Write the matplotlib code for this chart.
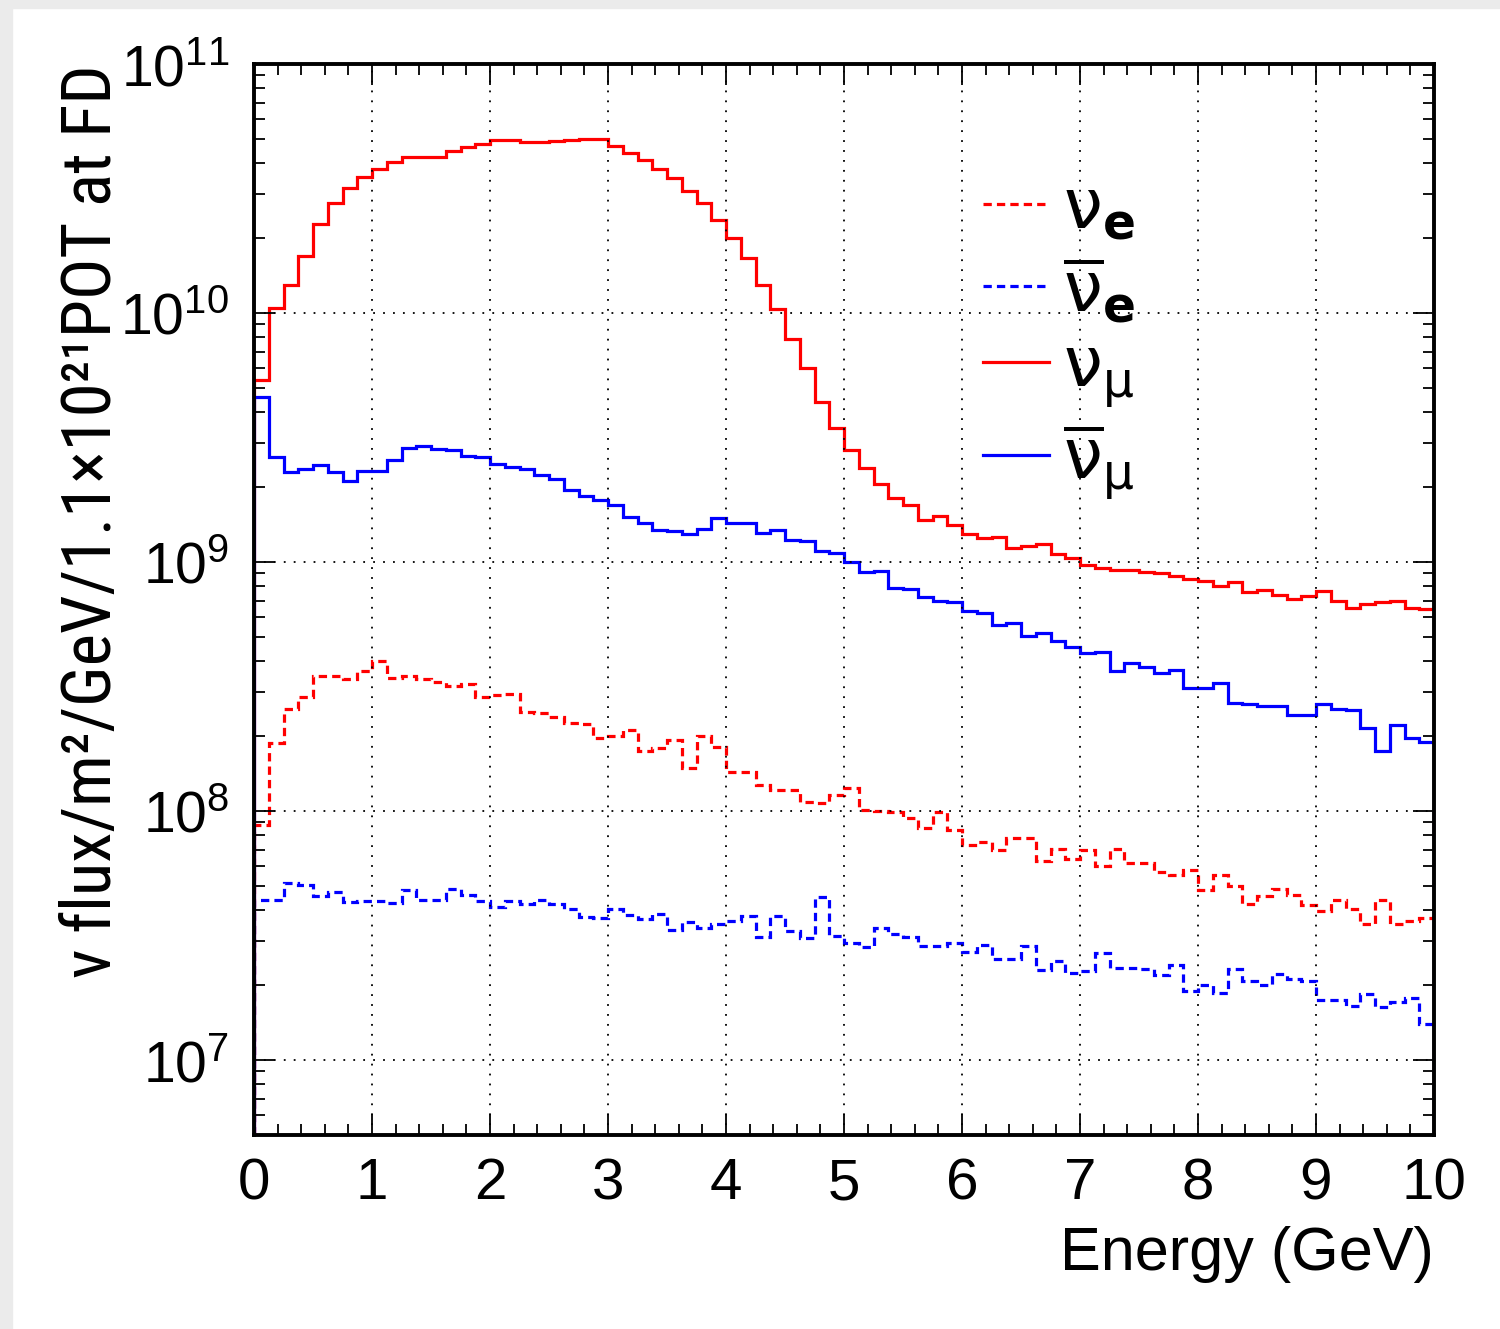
import numpy as np
import matplotlib
matplotlib.use("Agg")
import matplotlib.pyplot as plt
from matplotlib.lines import Line2D
from matplotlib.patches import Rectangle
from matplotlib.ticker import MultipleLocator, LogLocator, NullFormatter
from matplotlib import font_manager

plt.rcParams['font.family'] = ['Liberation Sans', 'DejaVu Sans']
plt.rcParams['mathtext.fontset'] = 'custom'
plt.rcParams['mathtext.rm'] = 'Liberation Sans'
plt.rcParams['mathtext.it'] = 'Liberation Sans:italic'
plt.rcParams['mathtext.bf'] = 'Liberation Sans:bold'

# ---------------- data (flux per 0.125 GeV bin, 0-10 GeV) ----------------
bin_width = 0.125
n_bins = 80
edges = np.arange(n_bins + 1) * bin_width

numu = [5.4e9, 1.05e10, 1.29e10, 1.69e10, 2.27e10, 2.76e10, 3.19e10, 3.52e10,
        3.78e10, 4.04e10, 4.25e10, 4.25e10, 4.25e10, 4.47e10, 4.65e10, 4.79e10,
        4.93e10, 4.93e10, 4.87e10, 4.85e10, 4.90e10, 4.95e10, 5.01e10, 4.98e10,
        4.69e10, 4.40e10, 4.10e10, 3.80e10, 3.50e10, 3.09e10, 2.76e10, 2.37e10,
        2.00e10, 1.67e10, 1.30e10, 1.04e10, 7.9e9, 6.0e9, 4.4e9, 3.45e9,
        2.81e9, 2.39e9, 2.05e9, 1.81e9, 1.69e9, 1.47e9, 1.53e9, 1.41e9,
        1.30e9, 1.25e9, 1.26e9, 1.14e9, 1.16e9, 1.18e9, 1.08e9, 1.04e9,
        9.7e8, 9.5e8, 9.27e8, 9.25e8, 9.13e8, 9.0e8, 8.8e8, 8.54e8,
        8.38e8, 8.03e8, 8.34e8, 7.6e8, 7.7e8, 7.4e8, 7.1e8, 7.3e8,
        7.67e8, 6.97e8, 6.55e8, 6.8e8, 6.93e8, 6.97e8, 6.55e8, 6.47e8]

numubar = [4.59e9, 2.64e9, 2.30e9, 2.36e9, 2.46e9, 2.29e9, 2.11e9, 2.33e9,
           2.31e9, 2.56e9, 2.87e9, 2.92e9, 2.85e9, 2.81e9, 2.67e9, 2.64e9,
           2.48e9, 2.41e9, 2.36e9, 2.24e9, 2.15e9, 1.94e9, 1.84e9, 1.77e9,
           1.70e9, 1.52e9, 1.44e9, 1.35e9, 1.33e9, 1.30e9, 1.36e9, 1.50e9,
           1.43e9, 1.43e9, 1.31e9, 1.34e9, 1.23e9, 1.21e9, 1.11e9, 1.09e9,
           1.00e9, 9.1e8, 9.2e8, 7.9e8, 7.8e8, 7.26e8, 6.97e8, 6.88e8,
           6.37e8, 6.22e8, 5.58e8, 5.67e8, 5.06e8, 5.2e8, 4.82e8, 4.57e8,
           4.30e8, 4.37e8, 3.65e8, 3.94e8, 3.8e8, 3.57e8, 3.69e8, 3.13e8,
           3.13e8, 3.26e8, 2.71e8, 2.68e8, 2.65e8, 2.65e8, 2.43e8, 2.42e8,
           2.68e8, 2.57e8, 2.55e8, 2.15e8, 1.75e8, 2.22e8, 1.97e8, 1.90e8]

nue = [8.8e7, 1.87e8, 2.57e8, 2.88e8, 3.47e8, 3.47e8, 3.39e8, 3.66e8,
       4.0e8, 3.43e8, 3.47e8, 3.39e8, 3.29e8, 3.19e8, 3.23e8, 2.88e8,
       2.92e8, 2.94e8, 2.49e8, 2.47e8, 2.38e8, 2.25e8, 2.23e8, 1.96e8,
       2.0e8, 2.11e8, 1.75e8, 1.79e8, 1.93e8, 1.49e8, 2.01e8, 1.80e8,
       1.44e8, 1.44e8, 1.27e8, 1.22e8, 1.22e8, 1.09e8, 1.08e8, 1.16e8,
       1.24e8, 1.01e8, 1.0e8, 9.9e7, 9.4e7, 8.55e7, 9.9e7, 8.4e7,
       7.3e7, 7.5e7, 7.0e7, 7.8e7, 7.8e7, 6.3e7, 7.06e7, 6.4e7,
       7.0e7, 6.0e7, 7.06e7, 6.2e7, 6.2e7, 5.7e7, 5.56e7, 5.8e7,
       4.8e7, 5.56e7, 5.0e7, 4.24e7, 4.55e7, 4.88e7, 4.62e7, 4.19e7,
       3.98e7, 4.41e7, 4.06e7, 3.53e7, 4.41e7, 3.53e7, 3.63e7, 3.73e7]

nuebar = [4.41e7, 4.41e7, 5.12e7, 5.05e7, 4.55e7, 4.72e7, 4.32e7, 4.35e7,
          4.35e7, 4.26e7, 4.8e7, 4.41e7, 4.4e7, 4.85e7, 4.62e7, 4.35e7,
          4.11e7, 4.35e7, 4.22e7, 4.38e7, 4.22e7, 4.03e7, 3.76e7, 3.73e7,
          4.06e7, 3.82e7, 3.67e7, 3.87e7, 3.34e7, 3.59e7, 3.4e7, 3.52e7,
          3.63e7, 3.78e7, 3.12e7, 3.78e7, 3.3e7, 3.1e7, 4.52e7, 3.15e7,
          2.96e7, 2.84e7, 3.38e7, 3.21e7, 3.12e7, 2.87e7, 2.87e7, 2.96e7,
          2.72e7, 2.9e7, 2.54e7, 2.54e7, 2.87e7, 2.29e7, 2.5e7, 2.24e7,
          2.28e7, 2.69e7, 2.34e7, 2.35e7, 2.32e7, 2.2e7, 2.41e7, 1.89e7,
          2.01e7, 1.86e7, 2.33e7, 2.07e7, 2.0e7, 2.22e7, 2.12e7, 2.07e7,
          1.74e7, 1.75e7, 1.65e7, 1.84e7, 1.63e7, 1.71e7, 1.77e7, 1.40e7]

labels = [r'$\mathrm{\nu}_{\mathbf{e}}$', r'$\overline{\mathrm{\nu}}_{\mathbf{e}}$',
          r'$\mathrm{\nu}_{\mathrm{\mu}}$', r'$\overline{\mathrm{\nu}}_{\mathrm{\mu}}$']
x_ticks = list(range(0, 11))
y_min, y_max = 5e6, 1e11
x_title = 'Energy (GeV)'
y_title = 'ν flux/m²/GeV/1.1×10²¹POT at FD'

# ---------------- figure ----------------
W, H = 1500, 1329
fig = plt.figure(figsize=(W / 100, H / 100), dpi=100)
fig.patch.set_facecolor('white')
fig.patches.append(Rectangle((0, 0), 12 / W, 1, transform=fig.transFigure,
                             color='#ebebeb', zorder=0))
fig.patches.append(Rectangle((0, 1 - 8 / H), 1, 8 / H, transform=fig.transFigure,
                             color='#ebebeb', zorder=0))

ax = fig.add_axes([254 / W, 1 - 1135 / H, (1434 - 254) / W, (1135 - 64) / H])
ax.set_yscale('log')

lw = 2.3
dash = (0, (2.6, 1.6))
series = [(nue, 'red', dash), (nuebar, 'blue', dash),
          (numu, 'red', '-'), (numubar, 'blue', '-')]
handles = []
for vals, col, ls in series:
    ax.stairs(vals, edges, baseline=y_min, color=col, lw=lw, linestyle=ls, zorder=2)
    handles.append(Line2D([], [], color=col, lw=lw, linestyle=ls))

ax.set_xlim(edges[0], edges[-1])
ax.set_ylim(y_min, y_max)

ax.xaxis.set_minor_locator(MultipleLocator(0.2))
ax.set_xticks(x_ticks)
ax.yaxis.set_major_locator(LogLocator(base=10, numticks=20))
ax.yaxis.set_minor_locator(LogLocator(base=10, subs=np.arange(2, 10), numticks=20))
ax.yaxis.set_minor_formatter(NullFormatter())

ax.tick_params(which='both', direction='in', top=True, right=True, width=1.3, colors='black')
ax.tick_params(which='major', length=15)
ax.tick_params(which='minor', length=8)
ax.tick_params(axis='x', which='major', labelsize=42, pad=16)
ax.tick_params(axis='y', which='major', labelsize=41, pad=18)

for sp in ax.spines.values():
    sp.set_linewidth(2.8)
    sp.set_zorder(5)

ax.grid(True, which='major', color='black', linestyle=(0, (1, 4.5)), linewidth=1.3)
ax.set_axisbelow(False)

# ---------------- axis titles ----------------
ax.set_xlabel(x_title, loc='right', fontsize=44)
ax.xaxis.set_label_coords(1.0, -0.085)


def find_narrow_font():
    fl = font_manager.fontManager.ttflist

    def regular(f):
        return f.style == 'normal' and f.weight in (400, 'normal', 'regular', 'book')

    for nm in ['Liberation Sans Narrow', 'Nimbus Sans Narrow', 'Arial Narrow',
               'Helvetica Narrow']:
        for f in fl:
            if f.name == nm and regular(f):
                return f.fname
    order = ['extra-condensed', 'condensed', 'semi-condensed']
    for st in order:
        for fam in ['Noto Sans', 'Roboto', 'Open Sans', 'Liberation Sans', 'Lato',
                    'Inter', 'DejaVu Sans']:
            for f in fl:
                if f.name.startswith(fam) and f.stretch == st and regular(f):
                    return f.fname
    for key in ['ExtraCondensed', 'Condensed', 'Narrow', 'SemiCondensed']:
        for f in fl:
            if key in f.name and regular(f):
                return f.fname
    return None


fpath = find_narrow_font()
if fpath:
    yfp = font_manager.FontProperties(fname=fpath, size=50)
else:
    yfp = font_manager.FontProperties(family=['Liberation Sans', 'DejaVu Sans'], size=44)
ylab = ax.set_ylabel(y_title, loc='top', fontproperties=yfp)
ax.yaxis.set_label_coords(-0.11, 1.0)

# size the title so that it spans the same length as in the original
fig.canvas.draw()
target_len = 915.0
bb = ylab.get_window_extent()
new_size = yfp.get_size() * target_len / bb.height
new_size = min(new_size, 60)
ylab.set_fontsize(new_size)
fig.canvas.draw()
bb = ylab.get_window_extent()
x_right_px = 92 + bb.width / 2
ax.yaxis.set_label_coords((x_right_px - 254) / 1180, 1.0)

# ---------------- legend ----------------
leg = ax.legend(handles, labels, loc='upper left', bbox_to_anchor=(983 / W, 1 - 178 / H),
                bbox_transform=fig.transFigure, frameon=False,
                prop=dict(size=50, math_fontfamily='dejavusans'),
                handlelength=0.95, handletextpad=0.2, labelspacing=0.17,
                borderpad=0, borderaxespad=0)

fig.savefig('out.png', dpi=100, facecolor=fig.get_facecolor())
